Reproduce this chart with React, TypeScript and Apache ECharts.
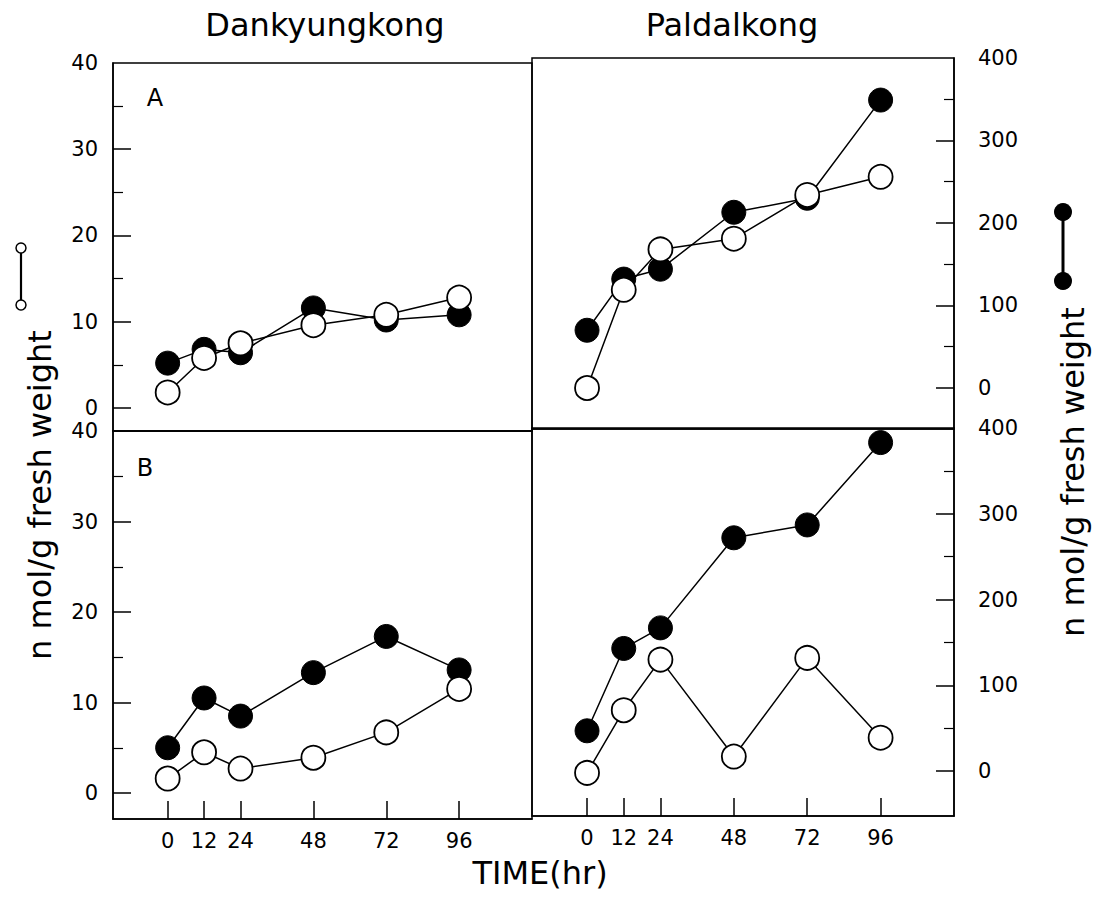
import React, { useEffect, useRef } from "react";
import * as echarts from "echarts";

// ---- data ----
const hours = [0, 12, 24, 48, 72, 96];
const xTicks = [0, 12, 24, 48, 72, 96];

// Panel A (upper)
const dankA_filled = [5.2, 6.8, 6.4, 11.6, 10.2, 10.8];
const dankA_open = [1.8, 5.8, 7.5, 9.6, 10.8, 12.8];
const paldA_filled = [70, 132, 144, 213, 230, 349];
const paldA_open = [0, 119, 168, 181, 234, 256];

// Panel B (lower)
const dankB_filled = [5.0, 10.5, 8.5, 13.3, 17.3, 13.6];
const dankB_open = [1.6, 4.5, 2.7, 3.9, 6.7, 11.5];
const paldB_filled = [47, 143, 167, 272, 287, 383];
const paldB_open = [-2, 71, 130, 17, 132, 39];

const leftLabels = [0, 10, 20, 30, 40];
const leftMajor = [0, 10, 20, 30];
const leftMinor = [5, 15, 25, 35];
const rightLabels = [0, 100, 200, 300, 400];
const rightMajor = [0, 100, 200, 300];
const rightMinor = [50, 150, 250, 350];

const FONT = "DejaVu Sans";

const pair = (vals: number[]) => hours.map((h, i) => [h, vals[i]]);

export default function App() {
  const ref = useRef<HTMLDivElement>(null);
  useEffect(() => {
    if (!ref.current) return;
    const chart = echarts.init(ref.current, null, { renderer: "svg" });

    const grids = [
      { left: 113, top: 63, width: 419, height: 368, ymin: -2.67, ymax: 40, side: "left", bottom: false },
      { left: 532, top: 58, width: 422, height: 371, ymin: -49.7, ymax: 400, side: "right", bottom: false },
      { left: 113, top: 431, width: 419, height: 388, ymin: -2.87, ymax: 40, side: "left", bottom: true },
      { left: 532, top: 428, width: 422, height: 388, ymin: -52.3, ymax: 400, side: "right", bottom: true },
    ];

    const xAxis = grids.map((g, i) => ({
      type: "value",
      gridIndex: i,
      min: -18,
      max: 120,
      axisLine: { show: true, onZero: false, lineStyle: { color: "#000", width: 1.5 } },
      splitLine: { show: false },
      axisTick: g.bottom
        ? { show: true, inside: true, length: 18, customValues: xTicks, lineStyle: { color: "#000", width: 1.5 } }
        : { show: false },
      axisLabel: g.bottom
        ? { show: true, customValues: xTicks, margin: 11, color: "#000", fontSize: 21, fontFamily: FONT }
        : { show: false },
    }));

    const yAxis: any[] = [];
    grids.forEach((g, i) => {
      const isLeft = g.side === "left";
      yAxis.push({
        type: "value",
        gridIndex: i,
        position: g.side,
        min: g.ymin,
        max: g.ymax,
        axisLine: { show: true, onZero: false, lineStyle: { color: "#000", width: 1.5 } },
        splitLine: { show: false },
        axisTick: {
          show: true,
          inside: true,
          length: 18,
          customValues: isLeft ? leftMajor : rightMajor,
          lineStyle: { color: "#000", width: 1.5 },
        },
        axisLabel: {
          show: true,
          customValues: isLeft ? leftLabels : rightLabels,
          margin: isLeft ? 15 : 24,
          color: "#000",
          fontSize: 21,
          fontFamily: FONT,
        },
      });
      yAxis.push({
        type: "value",
        gridIndex: i,
        position: g.side,
        min: g.ymin,
        max: g.ymax,
        axisLine: { show: false, onZero: false },
        splitLine: { show: false },
        axisTick: {
          show: true,
          inside: true,
          length: 10,
          customValues: isLeft ? leftMinor : rightMinor,
          lineStyle: { color: "#000", width: 1.2 },
        },
        axisLabel: { show: false },
      });
    });

    const filled = (data: number[], gi: number) => ({
      type: "line",
      xAxisIndex: gi,
      yAxisIndex: gi * 2,
      data: pair(data),
      symbol: "circle",
      symbolSize: 24,
      lineStyle: { color: "#000", width: 1.5 },
      itemStyle: { color: "#000", borderColor: "#000", borderWidth: 1 },
      z: 2,
    });
    const open = (data: number[], gi: number) => ({
      type: "line",
      xAxisIndex: gi,
      yAxisIndex: gi * 2,
      data: pair(data),
      symbol: "circle",
      symbolSize: 24,
      lineStyle: { color: "#000", width: 1.5 },
      itemStyle: { color: "#fff", borderColor: "#000", borderWidth: 1.8 },
      z: 3,
    });

    const series = [
      filled(dankA_filled, 0), open(dankA_open, 0),
      filled(paldA_filled, 1), open(paldA_open, 1),
      filled(dankB_filled, 2), open(dankB_open, 2),
      filled(paldB_filled, 3), open(paldB_open, 3),
    ];

    const txt = (text: string, x: number, y: number, size: number, rot = 0) => ({
      type: "text",
      x,
      y,
      rotation: rot,
      style: {
        text,
        fill: "#000",
        font: `${size}px '${FONT}'`,
        textAlign: "center",
        textVerticalAlign: "middle",
      },
      z: 10,
    });

    chart.setOption({
      animation: false,
      backgroundColor: "#fff",
      grid: grids.map((g) => ({
        left: g.left,
        top: g.top,
        width: g.width,
        height: g.height,
        show: true,
        borderColor: "#000",
        borderWidth: 1.5,
        backgroundColor: "transparent",
        containLabel: false,
      })),
      xAxis,
      yAxis,
      series,
      graphic: [
        txt("Dankyungkong", 325, 25, 32),
        txt("Paldalkong", 732, 25, 32),
        txt("TIME(hr)", 540, 873, 32),
        txt("A", 155, 98, 24),
        txt("B", 145, 468, 24),
        txt("n mol/g fresh weight", 40, 495, 32, Math.PI / 2),
        txt("n mol/g fresh weight", 1073, 472, 32, Math.PI / 2),
        // left legend key (open circles)
        { type: "line", shape: { x1: 21, y1: 253, x2: 21, y2: 300 }, style: { stroke: "#000", lineWidth: 2.2 } },
        { type: "circle", shape: { cx: 21, cy: 248, r: 5 }, style: { fill: "#fff", stroke: "#000", lineWidth: 1.5 } },
        { type: "circle", shape: { cx: 21, cy: 305, r: 5 }, style: { fill: "#fff", stroke: "#000", lineWidth: 1.5 } },
        // right legend key (filled circles)
        { type: "line", shape: { x1: 1063, y1: 212, x2: 1063, y2: 281 }, style: { stroke: "#000", lineWidth: 3 } },
        { type: "circle", shape: { cx: 1063, cy: 212, r: 9 }, style: { fill: "#000" } },
        { type: "circle", shape: { cx: 1063, cy: 281, r: 9 }, style: { fill: "#000" } },
      ],
    });

    return () => chart.dispose();
  }, []);

  return (
    <div
      ref={ref}
      style={{ position: "absolute", left: 0, top: 0, width: 1096, height: 912 }}
    />
  );
}
